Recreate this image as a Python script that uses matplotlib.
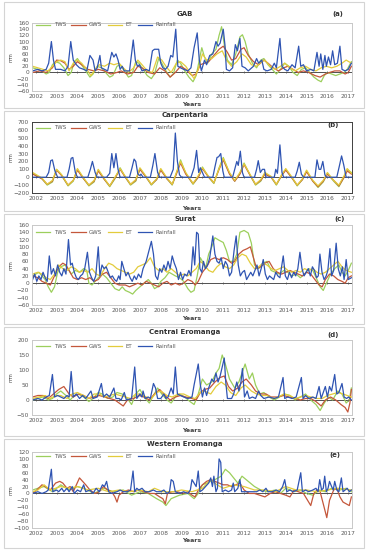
import matplotlib
matplotlib.use('Agg')
import matplotlib.pyplot as plt
from matplotlib.patches import Rectangle
import numpy as np

W, H = 369, 550

series_names = ['TWS', 'GWS', 'ET', 'Rainfall']
series_colors = ['#9ccf5c', '#c4573b', '#e3cc3c', '#2f54b2']
years = list(range(2002, 2018))

# ---------------- (a) GAB ----------------
gab_tws = [(2001.85, 15), (2002.1, 10), (2002.3, 5), (2002.5, -5), (2002.65, 0), (2002.8, 25), (2002.95, 35),
           (2003.15, 30), (2003.35, 15), (2003.55, -10), (2003.7, 0), (2003.85, 35), (2004.0, 45), (2004.2, 25),
           (2004.4, 5), (2004.6, -15), (2004.75, -5), (2004.95, 20), (2005.15, 15), (2005.35, 0), (2005.55, -15),
           (2005.7, -10), (2005.9, 20), (2006.05, 25), (2006.25, 5), (2006.45, -15), (2006.6, -10), (2006.8, 35),
           (2006.95, 30), (2007.15, 10), (2007.35, -10), (2007.55, -20), (2007.7, -5), (2007.9, 45), (2008.05, 30),
           (2008.25, 5), (2008.45, -15), (2008.6, -5), (2008.8, 40), (2008.95, 30), (2009.15, 5), (2009.35, -15),
           (2009.55, -30), (2009.7, -10), (2009.85, 40), (2009.97, 80), (2010.1, 50), (2010.25, 30), (2010.45, 60),
           (2010.65, 75), (2010.8, 120), (2010.92, 148), (2011.05, 90), (2011.2, 40), (2011.4, 25), (2011.6, 60),
           (2011.8, 115), (2011.92, 122), (2012.05, 100), (2012.2, 60), (2012.4, 30), (2012.6, 15), (2012.8, 40),
           (2012.95, 45), (2013.15, 25), (2013.35, 10), (2013.55, -5), (2013.75, 10), (2013.95, 30), (2014.15, 20),
           (2014.35, 0), (2014.55, -10), (2014.75, 10), (2014.95, 15), (2015.15, 0), (2015.35, -15), (2015.55, -25),
           (2015.7, -30), (2015.85, -10), (2016.0, 0), (2016.2, -5), (2016.4, -10), (2016.6, -5), (2016.8, 0),
           (2016.95, 10), (2017.15, 35)]
gab_gws = [(2001.85, 0), (2002.2, 5), (2002.5, 0), (2002.8, 15), (2003.0, 40), (2003.2, 38), (2003.4, 30),
           (2003.6, 10), (2003.8, 20), (2004.0, 35), (2004.2, 25), (2004.5, 10), (2004.8, 5), (2005.0, 10),
           (2005.3, 5), (2005.6, -5), (2005.9, 0), (2006.1, 5), (2006.4, -5), (2006.7, 0), (2006.9, 20),
           (2007.1, 15), (2007.4, 0), (2007.7, -5), (2007.95, 15), (2008.2, 5), (2008.45, -15), (2008.7, 0),
           (2008.95, 20), (2009.2, 10), (2009.5, -10), (2009.7, -5), (2009.9, 25), (2010.1, 30), (2010.3, 35),
           (2010.55, 55), (2010.8, 75), (2011.0, 85), (2011.2, 65), (2011.4, 40), (2011.6, 45), (2011.85, 75),
           (2012.0, 80), (2012.2, 55), (2012.45, 35), (2012.7, 25), (2012.95, 40), (2013.15, 30), (2013.4, 15),
           (2013.65, 5), (2013.9, 15), (2014.1, 20), (2014.35, 10), (2014.6, 0), (2014.85, 5), (2015.1, 0),
           (2015.4, -10), (2015.65, -15), (2015.9, -5), (2016.1, 0), (2016.35, 5), (2016.6, 5), (2016.85, -5),
           (2017.0, 0), (2017.15, 20)]
gab_et = [(2001.85, 20), (2002.1, 15), (2002.35, 10), (2002.6, 5), (2002.8, 20), (2003.0, 35), (2003.2, 40),
          (2003.4, 35), (2003.6, 5), (2003.8, 30), (2004.0, 40), (2004.2, 30), (2004.45, 10), (2004.65, -10),
          (2004.85, 10), (2005.05, 25), (2005.3, 20), (2005.55, 30), (2005.75, 25), (2006.0, 30), (2006.2, 15),
          (2006.45, 0), (2006.7, 15), (2006.9, 40), (2007.1, 25), (2007.35, 5), (2007.6, 0), (2007.85, 50),
          (2008.05, 40), (2008.3, 15), (2008.5, 0), (2008.75, 30), (2008.95, 35), (2009.2, 20), (2009.45, -5),
          (2009.6, -20), (2009.8, 10), (2010.0, 60), (2010.2, 40), (2010.45, 45), (2010.7, 60), (2010.95, 70),
          (2011.15, 40), (2011.4, 20), (2011.65, 35), (2011.9, 60), (2012.1, 50), (2012.35, 25), (2012.6, 20),
          (2012.85, 35), (2013.0, 40), (2013.25, 20), (2013.5, 10), (2013.75, 20), (2013.95, 30), (2014.2, 15),
          (2014.45, 5), (2014.7, 15), (2014.95, 20), (2015.2, 10), (2015.45, 5), (2015.7, 15), (2015.95, 20),
          (2016.2, 15), (2016.45, 20), (2016.7, 30), (2016.9, 40), (2017.15, 30)]
gab_rain = [(2001.85, 5), (2002.1, 10), (2002.3, 5), (2002.5, 10), (2002.62, 30), (2002.75, 100), (2002.85, 40),
            (2002.95, 10), (2003.2, 10), (2003.4, 5), (2003.55, 20), (2003.68, 100), (2003.8, 40), (2003.95, 25),
            (2004.1, 15), (2004.3, 10), (2004.45, 5), (2004.6, 55), (2004.75, 40), (2004.85, 5), (2004.95, 15),
            (2005.08, 55), (2005.15, 15), (2005.3, 10), (2005.45, 5), (2005.65, 65), (2005.75, 50), (2005.85, 60),
            (2005.95, 40), (2006.05, 10), (2006.15, 20), (2006.25, 5), (2006.5, 5), (2006.68, 105), (2006.78, 40),
            (2006.88, 20), (2006.98, 25), (2007.1, 5), (2007.3, 10), (2007.45, 5), (2007.6, 70), (2007.7, 75),
            (2007.9, 75), (2008.0, 30), (2008.1, 15), (2008.22, 10), (2008.35, 20), (2008.48, 55), (2008.58, 50),
            (2008.72, 140), (2008.82, 20), (2008.95, 15), (2009.1, 10), (2009.3, 5), (2009.45, 15), (2009.6, 80),
            (2009.75, 128), (2009.85, 40), (2009.95, 5), (2010.1, 40), (2010.2, 25), (2010.35, 55), (2010.5, 60),
            (2010.65, 100), (2010.75, 85), (2010.85, 95), (2011.0, 140), (2011.08, 90), (2011.15, 10), (2011.3, 5),
            (2011.45, 15), (2011.58, 90), (2011.68, 70), (2011.8, 110), (2011.9, 20), (2012.05, 15), (2012.2, 5),
            (2012.45, 20), (2012.6, 45), (2012.7, 30), (2012.85, 40), (2012.95, 10), (2013.1, 5), (2013.3, 10),
            (2013.45, 30), (2013.55, 15), (2013.72, 110), (2013.82, 20), (2013.95, 10), (2014.1, 5), (2014.3, 25),
            (2014.45, 15), (2014.62, 85), (2014.72, 20), (2014.85, 25), (2015.0, 5), (2015.2, 10), (2015.35, 5),
            (2015.5, 65), (2015.6, 20), (2015.68, 60), (2015.78, 10), (2015.88, 55), (2015.95, 20), (2016.05, 50),
            (2016.15, 25), (2016.25, 70), (2016.35, 25), (2016.48, 30), (2016.6, 85), (2016.7, 10), (2016.85, 5),
            (2017.0, 10), (2017.15, 30)]

# ---------------- (b) Carpentaria ----------------
carp_tws = [(2001.85, 50), (2002.3, -20), (2002.55, -100), (2002.8, -60), (2003.0, 100), (2003.2, 40),
            (2003.55, -110), (2003.8, -50), (2004.0, 100), (2004.3, -20), (2004.55, -110), (2004.8, -60),
            (2005.0, 90), (2005.3, -30), (2005.55, -120), (2005.8, -20), (2006.05, 120), (2006.3, 0),
            (2006.55, -100), (2006.8, -50), (2007.0, 110), (2007.3, 0), (2007.55, -100), (2007.8, -30),
            (2008.0, 100), (2008.3, -20), (2008.55, -100), (2008.75, 50), (2008.95, 220), (2009.2, 50),
            (2009.55, -90), (2009.8, 0), (2010.0, 130), (2010.3, 0), (2010.55, -80), (2010.8, 120), (2011.0, 250),
            (2011.3, 50), (2011.55, -50), (2011.8, 50), (2012.0, 180), (2012.3, 20), (2012.55, -100),
            (2012.8, -50), (2013.0, 50), (2013.3, 0), (2013.55, -100), (2013.8, 20), (2014.0, 100), (2014.3, -10),
            (2014.55, -110), (2014.8, -30), (2015.0, 80), (2015.3, -50), (2015.55, -130), (2015.8, -60),
            (2016.0, 50), (2016.3, -50), (2016.55, -120), (2016.8, 0), (2016.95, 100), (2017.15, 60)]
carp_gws = [(2001.85, 40), (2002.3, -20), (2002.55, -90), (2002.8, -50), (2003.0, 90), (2003.25, 20),
            (2003.55, -100), (2003.8, -40), (2004.0, 90), (2004.3, -20), (2004.55, -100), (2004.8, -50),
            (2005.0, 80), (2005.3, -30), (2005.55, -110), (2005.8, -10), (2006.05, 100), (2006.3, 0),
            (2006.55, -90), (2006.8, -40), (2007.0, 100), (2007.3, 0), (2007.55, -90), (2007.8, -30),
            (2008.0, 90), (2008.3, -20), (2008.55, -90), (2008.75, 40), (2008.95, 180), (2009.2, 40),
            (2009.55, -80), (2009.8, 0), (2010.0, 110), (2010.3, 0), (2010.55, -70), (2010.8, 100), (2011.0, 220),
            (2011.3, 40), (2011.55, -50), (2011.8, 40), (2012.0, 160), (2012.3, 20), (2012.55, -90),
            (2012.8, -40), (2013.0, 40), (2013.3, 0), (2013.55, -90), (2013.8, 20), (2014.0, 90), (2014.3, -10),
            (2014.55, -100), (2014.8, -30), (2015.0, 70), (2015.3, -50), (2015.55, -120), (2015.8, -50),
            (2016.0, 40), (2016.3, -40), (2016.55, -110), (2016.8, 0), (2016.95, 80), (2017.15, 40)]
carp_et = [(2001.85, 60), (2002.3, -10), (2002.55, -90), (2002.8, -40), (2003.0, 100), (2003.25, 30),
           (2003.55, -100), (2003.8, -40), (2004.0, 110), (2004.3, -10), (2004.55, -100), (2004.8, -40),
           (2005.0, 100), (2005.3, -20), (2005.55, -110), (2005.8, 0), (2006.05, 110), (2006.3, 10),
           (2006.55, -90), (2006.8, -30), (2007.0, 120), (2007.3, 10), (2007.55, -90), (2007.8, -20),
           (2008.0, 110), (2008.3, -10), (2008.55, -90), (2008.75, 60), (2008.95, 200), (2009.2, 60),
           (2009.55, -80), (2009.8, 20), (2010.0, 120), (2010.3, 10), (2010.55, -70), (2010.8, 110), (2011.0, 240),
           (2011.3, 60), (2011.55, -40), (2011.8, 60), (2012.0, 170), (2012.3, 30), (2012.55, -90),
           (2012.8, -30), (2013.0, 60), (2013.3, 10), (2013.55, -90), (2013.8, 30), (2014.0, 110), (2014.3, 0),
           (2014.55, -100), (2014.8, -20), (2015.0, 90), (2015.3, -40), (2015.55, -110), (2015.8, -40),
           (2016.0, 60), (2016.3, -40), (2016.55, -100), (2016.8, 20), (2016.95, 110), (2017.15, 50)]
carp_rain = [(2001.85, 0), (2002.5, 0), (2002.62, 60), (2002.72, 210), (2002.8, 220), (2002.92, 80), (2003.05, 0),
             (2003.5, 0), (2003.6, 100), (2003.7, 240), (2003.78, 250), (2003.9, 60), (2004.0, 0), (2004.5, 0),
             (2004.62, 100), (2004.72, 200), (2004.85, 60), (2004.95, 0), (2005.4, 0), (2005.55, 50),
             (2005.65, 300), (2005.75, 120), (2005.85, 300), (2005.95, 100), (2006.05, 0), (2006.5, 0),
             (2006.62, 120), (2006.72, 230), (2006.8, 200), (2006.9, 40), (2007.0, 20), (2007.05, 40), (2007.15, 0),
             (2007.5, 0), (2007.62, 150), (2007.72, 300), (2007.85, 60), (2007.95, 0), (2008.45, 0), (2008.6, 100),
             (2008.7, 560), (2008.8, 200), (2008.9, 30), (2009.0, 0), (2009.45, 0), (2009.6, 120), (2009.72, 340),
             (2009.82, 60), (2009.9, 120), (2010.0, 60), (2010.1, 0), (2010.5, 0), (2010.6, 130), (2010.7, 250),
             (2010.78, 260), (2010.88, 300), (2010.98, 80), (2011.05, 0), (2011.45, 0), (2011.55, 100),
             (2011.65, 200), (2011.72, 150), (2011.82, 330), (2011.92, 60), (2012.0, 0), (2012.5, 0), (2012.6, 100),
             (2012.68, 210), (2012.78, 60), (2012.88, 100), (2012.98, 100), (2013.05, 0), (2013.45, 0),
             (2013.52, 100), (2013.6, 50), (2013.72, 410), (2013.82, 60), (2013.9, 0), (2014.45, 0), (2014.55, 80),
             (2014.65, 190), (2014.75, 40), (2014.85, 0), (2015.4, 0), (2015.5, 220), (2015.6, 100), (2015.68, 100),
             (2015.78, 200), (2015.88, 30), (2015.95, 0), (2016.45, 0), (2016.58, 150), (2016.68, 270),
             (2016.78, 160), (2016.9, 0), (2017.15, 0)]

# ---------------- (c) Surat ----------------
surat_tws = [(2001.85, 20), (2002.0, 25), (2002.15, 30), (2002.3, 20), (2002.45, 10), (2002.6, -10), (2002.75, -25),
             (2002.9, -10), (2003.05, 30), (2003.2, 45), (2003.4, 50), (2003.55, 40), (2003.7, 25), (2003.9, 35),
             (2004.1, 30), (2004.3, 40), (2004.45, 35), (2004.55, 0), (2004.7, -5), (2004.85, 5), (2005.0, 15),
             (2005.2, 25), (2005.4, 15), (2005.6, 0), (2005.8, -15), (2006.0, -20), (2006.15, -10), (2006.3, -20),
             (2006.5, -25), (2006.65, -30), (2006.8, -20), (2007.0, -10), (2007.2, 0), (2007.4, 10), (2007.55, 0),
             (2007.7, -15), (2007.85, -10), (2008.0, 5), (2008.2, 15), (2008.4, 30), (2008.55, 25), (2008.7, 20),
             (2008.9, 15), (2009.1, 5), (2009.3, -15), (2009.45, -25), (2009.6, -20), (2009.75, 20), (2009.9, 70),
             (2010.0, 60), (2010.15, 40), (2010.3, 80), (2010.45, 100), (2010.6, 125), (2010.8, 118), (2011.0, 112),
             (2011.15, 90), (2011.3, 60), (2011.5, 60), (2011.65, 80), (2011.8, 140), (2012.0, 145), (2012.2, 138),
             (2012.35, 110), (2012.5, 50), (2012.7, 40), (2012.9, 55), (2013.1, 60), (2013.3, 35), (2013.5, 30),
             (2013.7, 25), (2013.9, 35), (2014.1, 30), (2014.3, 20), (2014.5, 25), (2014.7, 15), (2014.9, 25),
             (2015.1, 40), (2015.3, 35), (2015.5, 10), (2015.65, -10), (2015.8, -20), (2015.95, 0), (2016.15, 25),
             (2016.35, 40), (2016.55, 50), (2016.7, 30), (2016.85, 20), (2017.0, 35), (2017.15, 55)]
surat_gws = [(2001.85, 20), (2002.1, 15), (2002.3, 5), (2002.5, 0), (2002.7, -5), (2002.9, 20), (2003.1, 45),
             (2003.3, 55), (2003.45, 50), (2003.6, 35), (2003.8, 15), (2004.0, 10), (2004.2, 15), (2004.4, 10),
             (2004.6, 15), (2004.8, 5), (2005.0, 10), (2005.2, 25), (2005.4, 30), (2005.6, 15), (2005.8, 0),
             (2006.0, -5), (2006.3, -5), (2006.5, -10), (2006.7, -5), (2006.9, 0), (2007.1, -5), (2007.3, 5),
             (2007.5, 0), (2007.7, -5), (2007.9, -10), (2008.1, 0), (2008.3, 5), (2008.5, -5), (2008.7, 0),
             (2008.9, -5), (2009.1, 0), (2009.3, 10), (2009.5, 5), (2009.65, -5), (2009.8, 5), (2010.0, 30),
             (2010.2, 45), (2010.4, 65), (2010.6, 70), (2010.8, 65), (2011.0, 70), (2011.2, 65), (2011.4, 55),
             (2011.55, 60), (2011.75, 80), (2011.95, 90), (2012.15, 95), (2012.3, 100), (2012.45, 70), (2012.6, 40),
             (2012.8, 45), (2013.0, 55), (2013.2, 60), (2013.4, 40), (2013.6, 30), (2013.8, 25), (2014.0, 30),
             (2014.2, 35), (2014.4, 30), (2014.6, 25), (2014.8, 20), (2015.0, 30), (2015.2, 25), (2015.4, 10),
             (2015.6, -5), (2015.75, -10), (2015.9, 10), (2016.1, 25), (2016.3, 20), (2016.5, 10), (2016.7, 5),
             (2016.85, 0), (2017.0, 15), (2017.15, 20)]
surat_et = [(2001.85, 25), (2002.1, 30), (2002.3, 25), (2002.5, 15), (2002.7, 10), (2002.9, 25), (2003.1, 50),
            (2003.3, 40), (2003.5, 35), (2003.7, 45), (2003.9, 40), (2004.1, 30), (2004.3, 35), (2004.5, 30),
            (2004.7, 40), (2004.9, 25), (2005.1, 20), (2005.3, 40), (2005.5, 55), (2005.7, 50), (2005.9, 40),
            (2006.1, 35), (2006.3, 30), (2006.5, 25), (2006.7, 30), (2006.9, 45), (2007.1, 50), (2007.3, 55),
            (2007.5, 70), (2007.7, 45), (2007.9, 35), (2008.1, 40), (2008.3, 30), (2008.5, 40), (2008.7, 30),
            (2008.9, 20), (2009.1, 25), (2009.3, 20), (2009.5, 30), (2009.7, 40), (2009.9, 60), (2010.1, 50),
            (2010.3, 35), (2010.5, 30), (2010.7, 45), (2010.9, 55), (2011.1, 45), (2011.3, 40), (2011.5, 50),
            (2011.7, 70), (2011.9, 80), (2012.1, 75), (2012.3, 55), (2012.5, 40), (2012.7, 45), (2012.9, 55),
            (2013.1, 50), (2013.3, 40), (2013.5, 35), (2013.7, 40), (2013.9, 45), (2014.1, 35), (2014.3, 30),
            (2014.5, 35), (2014.7, 30), (2014.9, 40), (2015.1, 35), (2015.3, 40), (2015.5, 30), (2015.7, 25),
            (2015.9, 30), (2016.1, 40), (2016.3, 50), (2016.5, 60), (2016.7, 45), (2016.9, 35), (2017.15, 30)]
surat_rain = [(2001.85, 10), (2001.95, 25), (2002.05, 5), (2002.15, 20), (2002.25, 10), (2002.35, 30), (2002.45, 15),
              (2002.55, 5), (2002.65, 75), (2002.75, 25), (2002.85, 40), (2002.95, 20), (2003.05, 50),
              (2003.15, 30), (2003.25, 20), (2003.35, 40), (2003.45, 25), (2003.57, 120), (2003.67, 50),
              (2003.75, 55), (2003.85, 30), (2003.95, 15), (2004.05, 10), (2004.15, 20), (2004.25, 25),
              (2004.35, 40), (2004.48, 85), (2004.58, 30), (2004.68, 15), (2004.78, 5), (2004.88, 20), (2005.0, 100),
              (2005.08, 20), (2005.18, 50), (2005.28, 40), (2005.38, 45), (2005.48, 30), (2005.58, 15), (2005.68, 20),
              (2005.78, 10), (2005.88, 5), (2005.98, 20), (2006.05, 10), (2006.13, 60), (2006.23, 40), (2006.33, 20),
              (2006.43, 30), (2006.53, 15), (2006.63, 5), (2006.73, 20), (2006.83, 10), (2006.93, 25), (2007.05, 15),
              (2007.15, 40), (2007.3, 60), (2007.55, 115), (2007.65, 80), (2007.75, 20), (2007.85, 10),
              (2007.95, 40), (2008.05, 30), (2008.15, 50), (2008.25, 35), (2008.35, 60), (2008.45, 40),
              (2008.55, 75), (2008.65, 55), (2008.75, 40), (2008.85, 10), (2008.95, 30), (2009.05, 10),
              (2009.15, 25), (2009.25, 20), (2009.35, 35), (2009.45, 20), (2009.55, 100), (2009.63, 50),
              (2009.72, 140), (2009.8, 135), (2009.88, 40), (2009.97, 30), (2010.05, 60), (2010.15, 40),
              (2010.25, 50), (2010.35, 70), (2010.5, 130), (2010.6, 80), (2010.7, 60), (2010.8, 55), (2010.9, 70),
              (2011.0, 40), (2011.1, 60), (2011.2, 50), (2011.3, 20), (2011.4, 30), (2011.52, 90), (2011.62, 130),
              (2011.72, 50), (2011.82, 20), (2011.92, 30), (2012.02, 35), (2012.12, 10), (2012.22, 20),
              (2012.32, 30), (2012.42, 20), (2012.52, 35), (2012.62, 50), (2012.72, 20), (2012.82, 40),
              (2012.92, 65), (2013.02, 25), (2013.12, 10), (2013.22, 20), (2013.32, 15), (2013.42, 10),
              (2013.52, 30), (2013.62, 20), (2013.72, 15), (2013.88, 75), (2013.98, 20), (2014.08, 10),
              (2014.18, 30), (2014.28, 15), (2014.38, 30), (2014.48, 20), (2014.58, 40), (2014.68, 85),
              (2014.78, 40), (2014.88, 20), (2014.98, 30), (2015.08, 40), (2015.18, 20), (2015.28, 45),
              (2015.38, 35), (2015.48, 15), (2015.56, 20), (2015.64, 80), (2015.74, 30), (2015.84, 10),
              (2015.94, 20), (2016.02, 35), (2016.12, 95), (2016.2, 20), (2016.3, 35), (2016.42, 110), (2016.52, 40),
              (2016.62, 20), (2016.72, 45), (2016.8, 10), (2016.9, 65), (2017.0, 10), (2017.15, 15)]

# ---------------- (d) Central Eromanga ----------------
ceq_tws = [(2001.85, 0), (2002.1, 5), (2002.35, 10), (2002.6, 0), (2002.8, 5), (2003.0, 20), (2003.2, 30),
           (2003.45, 15), (2003.65, 0), (2003.85, 15), (2004.05, 20), (2004.3, 10), (2004.55, -5), (2004.75, 5),
           (2005.0, 25), (2005.2, 20), (2005.45, 5), (2005.7, 10), (2005.9, 25), (2006.15, 20), (2006.4, 5),
           (2006.6, -15), (2006.8, 20), (2007.0, 35), (2007.2, 10), (2007.45, -10), (2007.65, 15), (2007.85, 40),
           (2008.05, 20), (2008.3, 0), (2008.5, -10), (2008.7, 10), (2008.9, 20), (2009.15, 10), (2009.4, -5),
           (2009.6, -15), (2009.8, 20), (2010.0, 70), (2010.2, 50), (2010.45, 60), (2010.65, 90), (2010.8, 105),
           (2010.95, 150), (2011.1, 120), (2011.3, 70), (2011.55, 40), (2011.75, 60), (2011.95, 100), (2012.05, 120),
           (2012.25, 70), (2012.4, 90), (2012.55, 50), (2012.75, 20), (2012.95, 25), (2013.2, 10), (2013.45, 0),
           (2013.7, 10), (2013.95, 20), (2014.2, 15), (2014.45, 0), (2014.7, 10), (2014.95, 20), (2015.2, 0),
           (2015.45, -15), (2015.65, -35), (2015.85, -10), (2016.05, 10), (2016.25, 0), (2016.5, 30), (2016.7, 20),
           (2016.9, -10), (2017.05, 0), (2017.15, 40)]
ceq_gws = [(2001.85, 10), (2002.1, 15), (2002.35, 15), (2002.6, 5), (2002.85, 20), (2003.1, 35), (2003.35, 45),
           (2003.6, 20), (2003.8, 10), (2004.05, 20), (2004.3, 15), (2004.55, 5), (2004.8, 10), (2005.05, 15),
           (2005.3, 10), (2005.55, 5), (2005.8, 0), (2006.0, -10), (2006.2, -20), (2006.4, 0), (2006.7, 5),
           (2006.95, 15), (2007.2, 10), (2007.45, 0), (2007.7, 20), (2007.95, 35), (2008.2, 15), (2008.45, 0),
           (2008.7, 10), (2008.95, 15), (2009.2, 10), (2009.5, 5), (2009.7, 0), (2009.9, 25), (2010.1, 35),
           (2010.35, 40), (2010.6, 60), (2010.85, 75), (2011.05, 80), (2011.25, 45), (2011.45, 30), (2011.7, 40),
           (2011.9, 60), (2012.1, 70), (2012.35, 50), (2012.55, 30), (2012.8, 20), (2013.05, 20), (2013.3, 10),
           (2013.6, 10), (2013.9, 15), (2014.15, 10), (2014.45, 5), (2014.7, 0), (2014.95, 5), (2015.2, 5),
           (2015.45, -5), (2015.7, -20), (2015.9, 0), (2016.15, 10), (2016.4, 0), (2016.65, -15), (2016.85, -25),
           (2016.98, -40), (2017.08, -10), (2017.15, 35)]
ceq_et = [(2001.85, 5), (2002.15, 10), (2002.45, 15), (2002.7, 5), (2002.95, 15), (2003.2, 15), (2003.5, 5),
          (2003.75, 20), (2004.0, 25), (2004.3, 15), (2004.55, 5), (2004.8, 20), (2005.05, 20), (2005.3, 10),
          (2005.55, 15), (2005.8, 20), (2006.05, 15), (2006.3, 10), (2006.55, 5), (2006.8, 20), (2007.05, 20),
          (2007.3, 10), (2007.55, 5), (2007.8, 25), (2008.0, 30), (2008.3, 15), (2008.55, 10), (2008.85, 20),
          (2009.1, 20), (2009.4, 10), (2009.65, 5), (2009.9, 25), (2010.1, 30), (2010.4, 20), (2010.65, 45),
          (2010.9, 60), (2011.1, 50), (2011.35, 25), (2011.6, 15), (2011.85, 40), (2012.05, 50), (2012.35, 30),
          (2012.6, 20), (2012.85, 15), (2013.1, 15), (2013.4, 5), (2013.65, 10), (2013.9, 20), (2014.2, 15),
          (2014.45, 5), (2014.7, 10), (2014.95, 15), (2015.2, 10), (2015.5, 5), (2015.75, 5), (2016.0, 15),
          (2016.25, 20), (2016.5, 25), (2016.75, 20), (2016.95, 15), (2017.15, 10)]
ceq_rain = [(2001.85, 0), (2002.1, 5), (2002.3, 0), (2002.5, 10), (2002.65, 15), (2002.8, 85), (2002.9, 10),
            (2003.05, 15), (2003.2, 10), (2003.35, 5), (2003.5, 15), (2003.6, 10), (2003.7, 95), (2003.8, 10),
            (2003.95, 20), (2004.1, 5), (2004.25, 15), (2004.4, 5), (2004.5, 15), (2004.65, 30), (2004.75, 5),
            (2004.95, 10), (2005.15, 55), (2005.25, 10), (2005.4, 20), (2005.55, 10), (2005.65, 25), (2005.75, 40),
            (2005.85, 5), (2006.0, 5), (2006.1, 0), (2006.25, 25), (2006.35, 0), (2006.6, 5), (2006.75, 110),
            (2006.85, 5), (2007.0, 20), (2007.1, 10), (2007.15, 30), (2007.25, 5), (2007.4, 10), (2007.5, 5),
            (2007.65, 55), (2007.75, 40), (2007.85, 5), (2008.0, 5), (2008.15, 20), (2008.25, 5), (2008.35, 10),
            (2008.5, 40), (2008.6, 20), (2008.7, 110), (2008.8, 20), (2008.95, 15), (2009.1, 10), (2009.3, 5),
            (2009.5, 10), (2009.6, 50), (2009.8, 120), (2009.9, 50), (2010.0, 10), (2010.1, 40), (2010.2, 15),
            (2010.3, 40), (2010.45, 70), (2010.55, 60), (2010.65, 90), (2010.75, 60), (2010.85, 80), (2011.05, 140),
            (2011.12, 60), (2011.2, 5), (2011.4, 5), (2011.5, 20), (2011.65, 60), (2011.75, 30), (2011.85, 60),
            (2011.92, 105), (2012.02, 10), (2012.15, 30), (2012.25, 5), (2012.4, 10), (2012.55, 5), (2012.7, 30),
            (2012.8, 15), (2012.95, 5), (2013.2, 10), (2013.45, 5), (2013.65, 10), (2013.87, 75), (2013.95, 5),
            (2014.1, 10), (2014.3, 5), (2014.5, 10), (2014.75, 75), (2014.83, 5), (2014.95, 15), (2015.1, 5),
            (2015.3, 10), (2015.45, 5), (2015.6, 45), (2015.7, 5), (2015.8, 25), (2015.9, 45), (2016.0, 10),
            (2016.1, 45), (2016.2, 30), (2016.35, 85), (2016.45, 20), (2016.55, 25), (2016.7, 55), (2016.8, 10),
            (2016.92, 5), (2017.02, 10), (2017.15, 0)]

# ---------------- (e) Western Eromanga ----------------
weq_tws = [(2001.85, 10), (2002.1, 15), (2002.4, 20), (2002.8, 5), (2003.2, 25), (2003.6, 10), (2004.0, 20),
           (2004.3, 15), (2004.8, 0), (2005.3, 15), (2005.7, 5), (2006.2, 10), (2006.6, -5), (2007.0, 5),
           (2007.4, 0), (2007.8, -15), (2008.1, -25), (2008.25, -35), (2008.5, -15), (2008.9, -5), (2009.3, 0),
           (2009.6, -15), (2009.8, 0), (2010.0, 25), (2010.4, 35), (2010.6, 40), (2010.9, 50), (2011.1, 70),
           (2011.3, 60), (2011.5, 45), (2011.7, 30), (2011.9, 50), (2012.2, 35), (2012.5, 20), (2012.8, 10),
           (2013.1, 5), (2013.5, 10), (2013.75, 0), (2014.0, 15), (2014.4, 5), (2014.7, 10), (2015.0, 0),
           (2015.3, -5), (2015.6, 10), (2015.9, 5), (2016.2, 15), (2016.6, 10), (2016.9, 15), (2017.15, 5)]
weq_gws = [(2001.85, 0), (2002.05, 10), (2002.3, 25), (2002.45, 20), (2002.7, 10), (2002.95, 30), (2003.15, 35),
           (2003.3, 30), (2003.5, 15), (2003.65, 20), (2003.8, 5), (2003.95, 25), (2004.1, 45), (2004.25, 35),
           (2004.4, 25), (2004.6, 10), (2004.85, 0), (2005.05, 5), (2005.25, 20), (2005.45, 10), (2005.65, 5),
           (2005.8, -10), (2005.9, -25), (2006.0, -5), (2006.2, 5), (2006.45, 10), (2006.7, 5), (2006.95, 10),
           (2007.2, 5), (2007.45, 0), (2007.7, 0), (2007.95, -10), (2008.1, -15), (2008.22, -30), (2008.32, 0),
           (2008.55, 5), (2008.8, 5), (2009.05, 0), (2009.3, 5), (2009.5, -5), (2009.65, -10), (2009.8, 10),
           (2010.0, 25), (2010.2, 35), (2010.4, 40), (2010.6, 35), (2010.8, 30), (2011.0, 25), (2011.2, 25),
           (2011.4, 20), (2011.6, 25), (2011.8, 30), (2012.0, 10), (2012.25, 0), (2012.5, 0), (2012.75, -5),
           (2013.0, -10), (2013.25, 0), (2013.5, 5), (2013.75, 0), (2014.0, -5), (2014.2, -10), (2014.4, 10),
           (2014.6, 5), (2014.85, 0), (2015.0, -15), (2015.2, -35), (2015.35, 0), (2015.5, 10), (2015.65, 5),
           (2015.8, -30), (2015.97, -70), (2016.1, -20), (2016.3, 10), (2016.45, 15), (2016.6, -10),
           (2016.75, -25), (2016.9, -30), (2017.05, -35), (2017.15, -10)]
weq_et = [(2001.85, 5), (2002.1, 10), (2002.4, 25), (2002.7, 10), (2003.2, 20), (2003.6, 15), (2004.0, 20),
          (2004.5, 10), (2005.0, 15), (2005.5, 5), (2006.0, 10), (2006.5, 5), (2007.0, 10), (2007.4, 5),
          (2007.7, 15), (2008.1, 5), (2008.6, 5), (2009.0, 10), (2009.5, 5), (2010.0, 15), (2010.4, 40),
          (2010.7, 25), (2011.0, 15), (2011.5, 25), (2012.0, 20), (2012.5, 10), (2013.0, 10), (2013.5, 5),
          (2014.0, 20), (2014.5, 10), (2015.0, 10), (2015.5, 5), (2016.0, 10), (2016.5, 15), (2017.15, 10)]
weq_rain = [(2001.85, 0), (2002.1, 5), (2002.3, 0), (2002.5, 5), (2002.6, 10), (2002.75, 70), (2002.82, 5),
            (2003.0, 10), (2003.1, 5), (2003.25, 15), (2003.35, 5), (2003.5, 15), (2003.6, 5), (2003.75, 20),
            (2003.85, 0), (2004.0, 10), (2004.15, 5), (2004.3, 25), (2004.4, 5), (2004.6, 10), (2004.75, 0),
            (2004.9, 15), (2005.05, 5), (2005.2, 25), (2005.3, 20), (2005.4, 35), (2005.5, 5), (2005.65, 0),
            (2005.9, 5), (2006.05, 10), (2006.2, 5), (2006.4, 5), (2006.55, 10), (2006.67, 65), (2006.75, 5),
            (2006.85, 15), (2006.95, 10), (2007.1, 15), (2007.25, 5), (2007.45, 5), (2007.65, 10), (2007.8, 5),
            (2008.0, 5), (2008.15, 10), (2008.3, 0), (2008.42, 5), (2008.5, 40), (2008.6, 35), (2008.7, 5),
            (2008.9, 0), (2009.1, 5), (2009.3, 0), (2009.42, 10), (2009.5, 40), (2009.6, 30), (2009.7, 20),
            (2009.8, 65), (2009.88, 5), (2010.0, 10), (2010.15, 20), (2010.3, 30), (2010.4, 45), (2010.48, 20),
            (2010.55, 50), (2010.65, 5), (2010.72, 15), (2010.8, 100), (2010.88, 90), (2010.95, 5), (2011.1, 10),
            (2011.25, 5), (2011.4, 10), (2011.48, 30), (2011.55, 5), (2011.7, 15), (2011.8, 40), (2011.88, 5),
            (2012.05, 5), (2012.3, 5), (2012.6, 5), (2012.75, 10), (2012.9, 5), (2013.05, 15), (2013.15, 5),
            (2013.35, 5), (2013.55, 10), (2013.7, 5), (2013.85, 20), (2013.95, 40), (2014.05, 5), (2014.2, 10),
            (2014.35, 5), (2014.55, 10), (2014.72, 60), (2014.8, 5), (2014.95, 10), (2015.1, 5), (2015.3, 10),
            (2015.45, 15), (2015.55, 5), (2015.63, 40), (2015.72, 10), (2015.8, 15), (2015.87, 50), (2015.95, 5),
            (2016.03, 15), (2016.1, 35), (2016.2, 20), (2016.28, 10), (2016.35, 35), (2016.45, 10), (2016.55, 5),
            (2016.67, 45), (2016.75, 5), (2016.85, 10), (2016.95, 15), (2017.05, 5), (2017.15, 10)]

# panel layout (pixel coords): title, letter, plot top/bottom, y range, y step, box, frame colour
panels = [
    dict(title='GAB', letter='(a)', series=[gab_tws, gab_gws, gab_et, gab_rain], ylim=(-60, 160), step=20,
         top=23, bottom=91, box=(4, 2, 364, 108), title_y=14, letter_xy=(338, 14), years_y=104,
         leg_y=25, frame='#c8c8c8'),
    dict(title='Carpentaria', letter='(b)', series=[carp_tws, carp_gws, carp_et, carp_rain], ylim=(-200, 700),
         step=100, top=122, bottom=193, box=(4, 111, 364, 211), title_y=115, letter_xy=(333, 125), years_y=208,
         leg_y=128, frame='#404040'),
    dict(title='Surat', letter='(c)', series=[surat_tws, surat_gws, surat_et, surat_rain], ylim=(-60, 160),
         step=20, top=225, bottom=305, box=(4, 214, 364, 324), title_y=219, letter_xy=(340, 219), years_y=319,
         leg_y=232, frame='#c8c8c8'),
    dict(title='Central Eromanga', letter='(d)', series=[ceq_tws, ceq_gws, ceq_et, ceq_rain], ylim=(-50, 200),
         step=50, top=340, bottom=415, box=(4, 327, 364, 436), title_y=332, letter_xy=(333, 335), years_y=430,
         leg_y=346, frame='#c8c8c8'),
    dict(title='Western Eromanga', letter='(e)', series=[weq_tws, weq_gws, weq_et, weq_rain], ylim=(-100, 120),
         step=20, top=452, bottom=528, box=(4, 439, 364, 548), title_y=444, letter_xy=(335, 455), years_y=541,
         leg_y=456, frame='#c8c8c8'),
]

fig = plt.figure(figsize=(W / 100, H / 100), dpi=100)
fig.patch.set_facecolor('white')

AX_L, AX_R = 32, 352

for p in panels:
    bl, bt, br, bb = p['box']
    fig.patches.append(Rectangle((bl / W, 1 - bb / H), (br - bl) / W, (bb - bt) / H,
                                 transform=fig.transFigure, fill=False, ec='#d4d4d4', lw=0.8))
    ax = fig.add_axes([AX_L / W, 1 - p['bottom'] / H, (AX_R - AX_L) / W, (p['bottom'] - p['top']) / H])
    for name, data, col in zip(series_names, p['series'], series_colors):
        arr = np.array(data, dtype=float)
        ax.plot(arr[:, 0], arr[:, 1], color=col, lw=0.9, label=name, solid_joinstyle='round')
    ax.axhline(0, color='#505050', lw=0.7, zorder=1)
    ax.plot(years, np.zeros(len(years)), ls='none', marker='|', ms=1.6, mew=0.5, color='#505050')

    ax.set_xlim(2001.82, 2017.18)
    lo, hi = p['ylim']
    ax.set_ylim(lo, hi)
    ax.set_yticks(np.arange(lo, hi + 1, p['step']))
    ax.set_xticks(years)
    ax.set_xticklabels([str(y) for y in years])
    ax.tick_params(length=0, labelsize=4.2, colors='#595959', pad=2)
    for s in ax.spines.values():
        s.set_color(p['frame'])
        s.set_linewidth(0.7)

    h = (p['bottom'] - p['top'])
    leg = ax.legend(loc='center left', bbox_to_anchor=(0.012, 1 - (p['leg_y'] - p['top']) / h),
                    ncol=4, frameon=False, fontsize=4, handlelength=2.6, handletextpad=0.6,
                    columnspacing=1.0, borderpad=0, borderaxespad=0)
    for t in leg.get_texts():
        t.set_color('#595959')

    fig.text(185 / W, 1 - p['title_y'] / H, p['title'], ha='center', va='center',
             fontsize=5, fontweight='bold', color='#333333')
    fig.text(p['letter_xy'][0] / W, 1 - p['letter_xy'][1] / H, p['letter'], ha='center', va='center',
             fontsize=5, fontweight='bold', color='#333333')
    fig.text(192 / W, 1 - p['years_y'] / H, 'Years', ha='center', va='center',
             fontsize=4.5, fontweight='bold', color='#404040')
    fig.text(11 / W, 1 - (p['top'] + p['bottom']) / 2 / H, 'mm', ha='center', va='center',
             rotation=90, fontsize=3.5, color='#404040')

fig.savefig('out.png', dpi=100, facecolor='white')
